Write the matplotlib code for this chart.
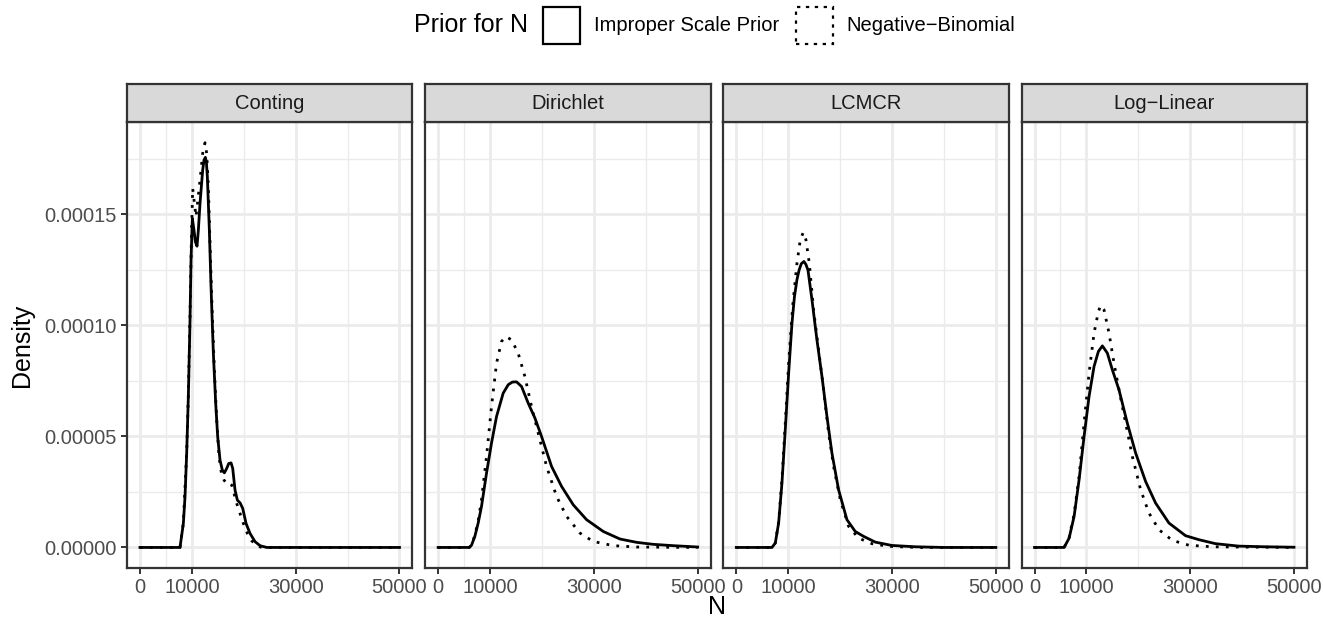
import numpy as np
import matplotlib.pyplot as plt
from matplotlib.patches import Patch

plt.rcParams['font.family'] = ['Liberation Sans', 'DejaVu Sans']

panels = ['Conting', 'Dirichlet', 'LCMCR', 'Log\u2212Linear']
legend_labels = ['Improper Scale Prior', 'Negative\u2212Binomial']
x_ticks = [0, 10000, 30000, 50000]
x_minor = [5000, 20000, 40000]
y_ticks = [0, 0.00005, 0.00010, 0.00015]
y_minor = [0.000025, 0.000075, 0.000125, 0.000175]

# densities, in units of 1e-5
conting_imp_n = [0, 7712, 8355, 8676, 8997, 9319, 9640, 9833, 10090, 10411, 10668, 10990, 11247, 11568,
                 12082, 12339, 12596, 12789, 12982, 13368, 13689, 14139, 14589, 14974, 15424, 15874,
                 16260, 16710, 17095, 17545, 17866, 18316, 18766, 19280, 19794, 20437, 21208, 22172,
                 23136, 24422, 50000]
conting_imp_d = [0, 0, 1.08, 2.28, 4.23, 6.79, 10.24, 12.94, 14.82, 14.29, 13.77, 13.57, 14.29, 15.5,
                 17.0, 17.45, 17.57, 17.37, 16.7, 14.29, 11.74, 8.74, 6.49, 4.98, 3.93, 3.48,
                 3.36, 3.56, 3.78, 3.81, 3.56, 2.58, 2.13, 2.01, 1.76, 1.08, 0.63, 0.26,
                 0.08, 0, 0]
conting_nb_n = [0, 7712, 8355, 8997, 9319, 9640, 9897, 10154, 10797, 11568, 12082, 12532, 12853, 13175,
                13496, 13882, 14332, 14781, 15231, 15746, 16195, 16710, 17224, 17674, 18123, 18638,
                19280, 19923, 20694, 21530, 22494, 23458, 50000]
conting_nb_d = [0, 0, 1.1, 4.3, 6.9, 10.4, 13.8, 16.17, 14.9, 16.55, 17.75, 18.23, 17.75, 16.25,
                13.69, 10.84, 7.99, 5.74, 4.08, 3.26, 3.03, 2.88, 2.91, 2.81, 2.43, 1.98,
                1.53, 1.08, 0.63, 0.3, 0.08, 0, 0]

dirichlet_imp_n = [0, 5980, 6430, 7070, 7712, 8355, 9320, 10280, 11250, 12530, 13500, 14300, 15100,
                   16070, 17350, 18640, 19920, 21850, 23780, 26030, 28600, 31810, 35030, 38240,
                   41450, 45310, 50000]
dirichlet_imp_d = [0, 0, 0.1, 0.5, 1.1, 1.85, 3.35, 4.7, 5.9, 6.95, 7.33, 7.45, 7.46,
                   7.25, 6.5, 5.83, 5.0, 3.65, 2.75, 1.92, 1.25, 0.72, 0.38, 0.23,
                   0.14, 0.08, 0.02]
dirichlet_nb_n = [0, 5980, 6430, 7070, 7712, 8355, 9320, 10280, 11250, 12210, 13050, 14140, 15420,
                  16710, 17990, 19280, 20890, 22810, 24740, 27310, 29880, 33740, 38240, 50000]
dirichlet_nb_d = [0, 0, 0.1, 0.55, 1.2, 2.15, 4.1, 6.35, 8.3, 9.28, 9.5, 9.35, 8.75,
                  7.7, 6.35, 5.15, 3.65, 2.3, 1.4, 0.65, 0.27, 0.08, 0.02, 0]

lcmcr_imp_n = [0, 6870, 7510, 8150, 8790, 9430, 10080, 10720, 11200, 11680, 12100, 12520, 13030,
               13400, 13800, 14570, 15530, 16500, 17460, 18420, 19700, 21310, 22910, 24520, 26770,
               29970, 34470, 40000, 50000]
lcmcr_imp_d = [0, 0, 0.2, 1.1, 2.9, 5.3, 7.85, 10.1, 11.3, 12.06, 12.5, 12.78, 12.88,
               12.75, 12.5, 11.16, 9.35, 7.7, 5.9, 4.25, 2.6, 1.25, 0.72, 0.5, 0.24,
               0.09, 0.03, 0, 0]
lcmcr_nb_n = [0, 6870, 7510, 8150, 8790, 9430, 10080, 10850, 11680, 12320, 12900, 13410, 14060,
              14890, 15850, 16820, 17780, 18740, 20030, 21630, 23560, 26120, 29330, 35000, 50000]
lcmcr_nb_d = [0, 0, 0.2, 1.15, 3.05, 5.6, 8.3, 10.86, 12.8, 13.86, 14.19, 13.86, 12.8,
              10.7, 8.9, 7.1, 5.15, 3.65, 2.15, 0.95, 0.42, 0.17, 0.05, 0, 0]

loglin_imp_n = [0, 5705, 6670, 7630, 8590, 9550, 10510, 11470, 12310, 13080, 14040, 15000, 16280,
                17880, 19490, 21410, 23330, 25900, 29100, 31670, 34870, 39360, 44490, 50000]
loglin_imp_d = [0, 0, 0.42, 1.4, 3.05, 5.0, 6.8, 8.15, 8.83, 9.08, 8.75, 8.0, 7.1,
                5.6, 4.25, 2.97, 2.0, 1.1, 0.53, 0.35, 0.17, 0.06, 0.03, 0.01]
loglin_nb_n = [0, 5705, 6670, 7630, 8590, 9550, 10510, 11470, 12310, 12760, 13400, 14360, 15320,
               16280, 17560, 18850, 20450, 22050, 23970, 26540, 29740, 34230, 50000]
loglin_nb_d = [0, 0, 0.45, 1.5, 3.2, 5.6, 7.85, 9.65, 10.63, 10.9, 10.7, 9.65, 8.3,
               7.1, 5.6, 4.1, 2.6, 1.55, 0.8, 0.32, 0.1, 0.03, 0]

curves = [
    (conting_imp_n, conting_imp_d, conting_nb_n, conting_nb_d),
    (dirichlet_imp_n, dirichlet_imp_d, dirichlet_nb_n, dirichlet_nb_d),
    (lcmcr_imp_n, lcmcr_imp_d, lcmcr_nb_n, lcmcr_nb_d),
    (loglin_imp_n, loglin_imp_d, loglin_nb_n, loglin_nb_d),
]

W, H = 1323, 623
small = 14.5
big = 18

fig, axes = plt.subplots(1, 4, figsize=(W / 100, H / 100), dpi=100, sharey=True)
fig.subplots_adjust(left=127 / W, right=1307 / W, bottom=1 - 567.7 / H, top=1 - 122.3 / H,
                    wspace=12.7 / 285.5)

dotted = (0, (1.0, 2.6))
strip_h = 38.3 / 445.4

for ax, name, (n1, d1, n2, d2) in zip(axes, panels, curves):
    ax.set_facecolor('white')
    ax.set_xlim(-2500, 52500)
    ax.set_ylim(-9.12e-6, 1.915e-4)
    ax.set_xticks(x_ticks)
    ax.set_xticks(x_minor, minor=True)
    ax.set_yticks(y_ticks)
    ax.set_yticks(y_minor, minor=True)
    ax.grid(which='major', color='#EBEBEB', linewidth=2.0)
    ax.grid(which='minor', color='#EBEBEB', linewidth=1.0)
    ax.set_axisbelow(True)
    ax.tick_params(which='minor', length=0)
    ax.tick_params(which='major', length=4.3, width=1.4, color='#333333', labelcolor='#4D4D4D',
                   labelsize=small, pad=3.0)
    for s in ax.spines.values():
        s.set_color('#333333')
        s.set_linewidth(1.6)

    ax.plot(n1, np.array(d1) * 1e-5, color='black', linewidth=2.0, solid_joinstyle='round')
    ax.plot(n2, np.array(d2) * 1e-5, color='black', linewidth=2.0, linestyle=dotted)

    strip = ax.inset_axes([0, 1, 1, strip_h])
    strip.set_facecolor('#D9D9D9')
    strip.set_xticks([])
    strip.set_yticks([])
    for s in strip.spines.values():
        s.set_color('#333333')
        s.set_linewidth(1.6)
    strip.text(0.5, 0.5, name, ha='center', va='center', fontsize=small, color='#1A1A1A',
               transform=strip.transAxes)

axes[0].yaxis.set_major_formatter(plt.FuncFormatter(lambda v, p: f'{v:.5f}'))
for ax in axes[1:]:
    ax.tick_params(axis='y', which='both', left=False)

fig.text(22 / W, 1 - 345 / H, 'Density', rotation=90, ha='center', va='center', fontsize=big)
fig.text(717 / W, 1 - 607 / H, 'N', ha='center', va='center', fontsize=big)

# legend on top, title at left
fig.text(414 / W, 1 - 25.3 / H, 'Prior for N', ha='left', va='center', fontsize=big)
handles = [Patch(facecolor='white', edgecolor='black', linewidth=1.6, label=legend_labels[0]),
           Patch(facecolor='white', edgecolor='black', linewidth=1.6, linestyle=(0, (1.5, 2.5)),
                 label=legend_labels[1])]
fig.legend(handles=handles, loc='center left', bbox_to_anchor=(543 / W, 1 - 25.3 / H), ncol=2,
           frameon=False, fontsize=small, handlelength=1.84, handleheight=2.45, handletextpad=0.7,
           columnspacing=0.8, borderpad=0, borderaxespad=0)

fig.savefig('out.png', dpi=100)
